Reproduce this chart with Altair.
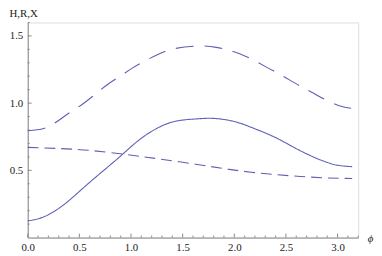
import altair as alt
import pandas as pd

# curve samples (phi, value)
phi_X = [0.0, 0.155, 0.28, 0.40, 0.526, 0.65, 0.77, 0.90, 1.02, 1.145, 1.27, 1.42, 1.64,
         1.825, 1.98, 2.13, 2.32, 2.44, 2.63, 2.75, 2.91, 3.06, 3.1416]
val_X = [0.795, 0.812, 0.861, 0.927, 0.990, 1.064, 1.137, 1.203, 1.264, 1.318, 1.366, 1.405,
         1.425, 1.415, 1.386, 1.342, 1.264, 1.215, 1.130, 1.081, 1.015, 0.971, 0.962]

phi_R = [0.0, 0.155, 0.34, 0.526, 0.71, 0.897, 1.08, 1.27, 1.45, 1.64, 1.81, 2.01, 2.19,
         2.38, 2.56, 2.75, 2.94, 3.06, 3.1416]
val_R = [0.124, 0.154, 0.239, 0.361, 0.483, 0.605, 0.727, 0.820, 0.868, 0.883, 0.886, 0.861,
         0.812, 0.751, 0.678, 0.605, 0.549, 0.532, 0.527]

phi_H = [0.0, 0.28, 0.59, 0.96, 1.27, 1.64, 1.95, 2.26, 2.57, 2.88, 3.1416]
val_H = [0.671, 0.663, 0.649, 0.617, 0.585, 0.544, 0.507, 0.478, 0.458, 0.444, 0.439]

x_major = [0.0, 0.5, 1.0, 1.5, 2.0, 2.5, 3.0]
x_minor = [0.1, 0.2, 0.3, 0.4, 0.6, 0.7, 0.8, 0.9, 1.1, 1.2, 1.3, 1.4, 1.6, 1.7, 1.8, 1.9,
           2.1, 2.2, 2.3, 2.4, 2.6, 2.7, 2.8, 2.9, 3.1, 3.2]
y_major = [0.5, 1.0, 1.5]
y_minor = [0.1, 0.2, 0.3, 0.4, 0.6, 0.7, 0.8, 0.9, 1.1, 1.2, 1.3, 1.4, 1.6]

rows = []
for name, ps, vs in (("X", phi_X, val_X), ("R", phi_R, val_R), ("H", phi_H, val_H)):
    for p, v in zip(ps, vs):
        rows.append({"phi": p, "v": v, "s": name})
df = pd.DataFrame(rows)

W, H = 335, 218
COL = "#5e5eb6"
FONT = "Liberation Serif"

xs = alt.Scale(domain=[0, 3.2], nice=False, zero=False)
ys = alt.Scale(domain=[0, 1.6], nice=False, zero=False)

lines = alt.Chart(df).mark_line(color=COL, strokeWidth=1.1, interpolate="natural").encode(
    x=alt.X("phi:Q", scale=xs,
            axis=alt.Axis(values=x_major, format=".1f", ticks=False, grid=False,
                          domainColor="#888", labelColor="#222", labelFont=FONT,
                          labelFontSize=11, labelPadding=4, labelFlush=False,
                          title="ϕ", titleFont=FONT, titleFontSize=11, titleFontStyle="italic",
                          titleFontWeight="normal", titleColor="#222",
                          titleX=347, titleY=1, titleAlign="center", titleBaseline="middle")),
    y=alt.Y("v:Q", scale=ys,
            axis=alt.Axis(values=y_major, format=".1f", ticks=False, grid=False,
                          domainColor="#888", labelColor="#222", labelFont=FONT,
                          labelFontSize=11, labelPadding=5, labelFlush=False,
                          title="H,R,X", titleFont=FONT, titleFontSize=11,
                          titleFontWeight="normal", titleColor="#222", titleAngle=0,
                          titleX=-19, titleY=-9, titleAlign="left", titleBaseline="middle")),
    detail="s:N",
    strokeDash=alt.StrokeDash("s:N", scale=alt.Scale(domain=["X", "R", "H"],
                                                      range=[[18, 11], [1, 0], [11, 6]]),
                              legend=None),
)

xt_major = alt.Chart(pd.DataFrame({"t": x_major})).mark_rule(color="#888", strokeWidth=1).encode(
    x=alt.X("t:Q", scale=xs), y=alt.value(H), y2=alt.value(H - 4))
xt_minor = alt.Chart(pd.DataFrame({"t": x_minor})).mark_rule(color="#888", strokeWidth=1).encode(
    x=alt.X("t:Q", scale=xs), y=alt.value(H), y2=alt.value(H - 2))
yt_major = alt.Chart(pd.DataFrame({"t": y_major})).mark_rule(color="#888", strokeWidth=1).encode(
    y=alt.Y("t:Q", scale=ys), x=alt.value(0), x2=alt.value(4))
yt_minor = alt.Chart(pd.DataFrame({"t": y_minor})).mark_rule(color="#888", strokeWidth=1).encode(
    y=alt.Y("t:Q", scale=ys), x=alt.value(0), x2=alt.value(2))

chart = alt.layer(xt_major, xt_minor, yt_major, yt_minor, lines).properties(
    width=W, height=H,
    autosize=alt.AutoSizeParams(type="none"),
    padding={"left": 20, "top": 13, "right": 16, "bottom": 15},
).configure_view(stroke=None).configure(background="white")

chart.save("out.html", embed_options={"renderer": "svg", "actions": False})
